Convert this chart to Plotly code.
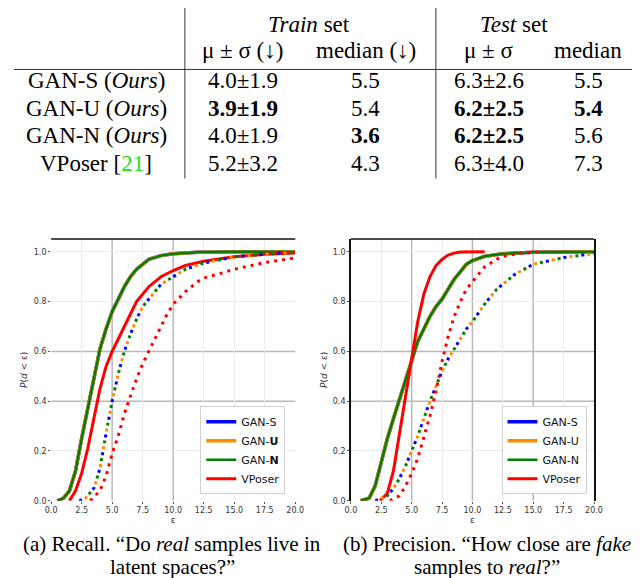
import plotly.graph_objects as go

# ---- table ----
row_labels = ["GAN-S (<i>Ours</i>)", "GAN-U (<i>Ours</i>)", "GAN-N (<i>Ours</i>)",
              "VPoser [<span style='color:#22dd22'>21</span>]"]
col_headers = ["μ ± σ (↓)", "median (↓)", "μ ± σ", "median"]
train_mean_std = ["4.0±1.9", "<b>3.9±1.9</b>", "4.0±1.9", "5.2±3.2"]
train_median = ["5.5", "5.4", "<b>3.6</b>", "4.3"]
test_mean_std = ["6.3±2.6", "<b>6.2±2.5</b>", "<b>6.2±2.5</b>", "6.3±4.0"]
test_median = ["5.5", "<b>5.4</b>", "5.6", "7.3"]

# ---- (a) recall curves ----
rec_gan_x = [0.5, 1, 1.5, 2, 2.5, 3, 3.5, 4, 4.5, 5, 5.5, 6, 6.5, 7, 7.5, 8, 9, 10, 12, 15, 20]
rec_gan_y = [0, 0.01, 0.04, 0.12, 0.25, 0.37, 0.5, 0.61, 0.69, 0.76, 0.81, 0.86, 0.9, 0.93, 0.95,
             0.97, 0.985, 0.992, 0.998, 1.0, 1.0]
rec_vp_x = [1.5, 2, 2.5, 3, 3.5, 4, 4.5, 5, 5.5, 6, 7, 8, 9, 10, 11, 12.5, 15, 17.5, 20]
rec_vp_y = [0, 0.04, 0.11, 0.21, 0.33, 0.45, 0.54, 0.6, 0.65, 0.7, 0.8, 0.86, 0.9, 0.925, 0.945,
            0.962, 0.98, 0.99, 0.995]
rec_gan_dot_x = [2.3, 2.8, 3.5, 4, 4.5, 5, 5.5, 6, 6.5, 7, 7.5, 8, 9, 10, 11, 12.5, 15, 17.5, 20]
rec_gan_dot_y = [0, 0.01, 0.05, 0.13, 0.27, 0.4, 0.51, 0.6, 0.67, 0.73, 0.78, 0.81, 0.87, 0.9,
                 0.93, 0.955, 0.98, 0.99, 0.998]
rec_vp_dot_x = [3.2, 4, 4.5, 5, 5.5, 6, 6.5, 7, 7.5, 8, 8.5, 9, 9.5, 10, 11, 12, 12.5, 14, 15, 17.5, 20]
rec_vp_dot_y = [0, 0.04, 0.1, 0.19, 0.26, 0.35, 0.42, 0.49, 0.55, 0.6, 0.65, 0.7, 0.75, 0.79, 0.84,
                0.88, 0.895, 0.915, 0.93, 0.957, 0.976]

# ---- (b) precision curves ----
pre_gan_x = [0.8, 1.5, 2, 2.5, 3, 3.5, 4, 4.5, 5, 5.5, 6, 6.5, 7, 7.5, 8, 8.5, 9, 9.5, 10, 11, 12.5, 15, 20]
pre_gan_y = [0, 0.01, 0.06, 0.16, 0.25, 0.33, 0.41, 0.49, 0.57, 0.64, 0.69, 0.74, 0.78, 0.81, 0.85,
             0.89, 0.92, 0.95, 0.965, 0.982, 0.992, 0.998, 1.0]
pre_vp_x = [2.4, 3, 3.5, 4, 4.5, 5, 5.5, 6, 6.5, 7, 7.5, 8, 8.5, 9, 11]
pre_vp_y = [0, 0.03, 0.12, 0.27, 0.43, 0.57, 0.72, 0.83, 0.9, 0.945, 0.97, 0.987, 0.995, 0.999, 1.0]
pre_gan_dot_x = [2, 3, 3.5, 4, 4.5, 5, 5.5, 6, 6.5, 7, 7.5, 8, 8.5, 9, 9.5, 10, 11, 12, 12.5, 13.5, 15, 17.5, 20]
pre_gan_dot_y = [0, 0.02, 0.05, 0.09, 0.14, 0.2, 0.26, 0.33, 0.4, 0.46, 0.52, 0.57, 0.61, 0.65, 0.69,
                 0.72, 0.79, 0.85, 0.87, 0.91, 0.95, 0.977, 0.993]
pre_vp_dot_x = [3.2, 4, 4.5, 5, 5.5, 6, 6.5, 7, 7.5, 8, 8.5, 9, 9.5, 10, 10.5, 11, 12, 12.5, 14, 15.5]
pre_vp_dot_y = [0, 0.02, 0.06, 0.11, 0.17, 0.25, 0.34, 0.44, 0.56, 0.66, 0.74, 0.8, 0.85, 0.88, 0.91,
                0.94, 0.97, 0.982, 0.995, 1.0]

names = ["GAN-S", "GAN-U", "GAN-N", "VPoser"]
legend_a = ["GAN-S", "GAN-<b>U</b>", "GAN-<b>N</b>", "VPoser"]
colors = ["#0000ff", "#ff8c00", "#008000", "#ff0000"]
gan_dashes = ["3px,15px", "0px,6px,3px,9px", "0px,12px,3px,3px"]
solid_widths = [3.5, 3.5, 2.5]

serif = "Liberation Serif, Times New Roman, serif"
fig = go.Figure()


def add_panel(xa, ya, leg, labels, gx, gy, vx, vy, gdx, gdy, vdx, vdy):
    for i in range(3):
        fig.add_trace(go.Scatter(x=gx, y=gy, mode="lines", xaxis=xa, yaxis=ya, name=labels[i],
                                 legend=leg, line=dict(color=colors[i], width=solid_widths[i])))
    fig.add_trace(go.Scatter(x=vx, y=vy, mode="lines", xaxis=xa, yaxis=ya, name=labels[3],
                             legend=leg, line=dict(color=colors[3], width=3)))
    for i in range(3):
        fig.add_trace(go.Scatter(x=gdx, y=gdy, mode="lines", xaxis=xa, yaxis=ya, showlegend=False,
                                 line=dict(color=colors[i], width=3, dash=gan_dashes[i])))
    fig.add_trace(go.Scatter(x=vdx, y=vdy, mode="lines", xaxis=xa, yaxis=ya, showlegend=False,
                             line=dict(color=colors[3], width=3, dash="3px,5px")))


add_panel("x", "y", "legend", legend_a, rec_gan_x, rec_gan_y, rec_vp_x, rec_vp_y,
          rec_gan_dot_x, rec_gan_dot_y, rec_vp_dot_x, rec_vp_dot_y)
add_panel("x2", "y2", "legend2", names, pre_gan_x, pre_gan_y, pre_vp_x, pre_vp_y,
          pre_gan_dot_x, pre_gan_dot_y, pre_vp_dot_x, pre_vp_dot_y)

tick_font = dict(family="DejaVu Sans", size=8, color="#333")
light = "#ebebeb"


def xaxis_style(light_vals):
    return dict(range=[0, 20], dtick=2.5, tickformat=".1f", showgrid=False,
                minor=dict(tickvals=light_vals, showgrid=True, gridcolor=light, ticks=""),
                zeroline=False, ticks="outside", ticklen=2, tickcolor="#555", tickfont=tick_font,
                title=dict(text="ε", font=dict(family="DejaVu Sans", size=9, color="#333"), standoff=2))


yaxis_common = dict(range=[0, 1.052], tickvals=[0, 0.2, 0.4, 0.6, 0.8, 1.0], tickformat=".1f",
                    showgrid=False, minor=dict(tickvals=[0.2, 0.8, 1.0], showgrid=True, gridcolor=light, ticks=""),
                    zeroline=False, ticks="outside", ticklen=2, tickcolor="#555", tickfont=tick_font,
                    title=dict(text="<i>P</i>(<i>d</i> < ε)", font=dict(family="DejaVu Sans", size=9, color="#333"),
                               standoff=4))

legend_style = dict(xanchor="left", yanchor="top", bgcolor="white", bordercolor="#d0d0d0", borderwidth=1,
                    font=dict(family="DejaVu Sans", size=11, color="#111"), tracegroupgap=0, itemwidth=30)

fig.update_layout(
    width=640, height=578, margin=dict(l=0, r=0, t=0, b=0),
    paper_bgcolor="white", plot_bgcolor="white",
    xaxis=dict(domain=[0.0594, 0.45], anchor="y", **xaxis_style([2.5, 7.5, 12.5, 15, 17.5])),
    yaxis=dict(domain=[0.14, 0.597], anchor="x", **yaxis_common),
    xaxis2=dict(domain=[0.539, 0.928], anchor="y2", **xaxis_style([2.5, 7.5, 12.5, 17.5])),
    yaxis2=dict(domain=[0.14, 0.597], anchor="x2", showline=True, linecolor="#111", linewidth=1.5,
                mirror=True, **yaxis_common),
    legend=dict(x=0.298, y=0.305, **legend_style),
    legend2=dict(x=0.78, y=0.305, **legend_style),
)

# darker major gridlines and frame pieces
shapes = []
for xa, ya, xs in [("x", "y", [5, 10]), ("x2", "y2", [5, 10, 15])]:
    for xv in xs:
        shapes.append(dict(type="line", xref=xa, yref=ya + " domain", x0=xv, x1=xv, y0=0, y1=1,
                           line=dict(color="#b8b8b8", width=1.5), layer="below"))
    for yv in [0.4, 0.6]:
        shapes.append(dict(type="line", xref=xa + " domain", yref=ya, x0=0, x1=1, y0=yv, y1=yv,
                           line=dict(color="#b8b8b8", width=1.5), layer="below"))
    shapes.append(dict(type="line", xref=xa + " domain", yref=ya + " domain", x0=0, x1=1, y0=1, y1=1,
                       line=dict(color="#111", width=1.5)))

# table rules
shapes.append(dict(type="line", xref="paper", yref="paper", x0=0, x1=1, y0=1 - 62 / 578, y1=1 - 62 / 578,
                   line=dict(color="#333", width=1)))
for xp in [175, 432]:
    shapes.append(dict(type="line", xref="paper", yref="paper", x0=xp / 640, x1=xp / 640,
                       y0=1 - 172 / 578, y1=1, line=dict(color="#333", width=1)))
fig.update_layout(shapes=shapes)

ann = []


def txt(text, xpx, ypx, size=23):
    ann.append(dict(text=text, x=xpx / 640, y=1 - ypx / 578, xref="paper", yref="paper",
                    showarrow=False, xanchor="center", yanchor="middle",
                    font=dict(family=serif, size=size, color="black")))


txt("<i>Train</i> set", 302, 17)
txt("<i>Test</i> set", 512, 17)
col_x = [234, 360, 486, 588]
for cx, h in zip(col_x, col_headers):
    txt(h, cx, 43)
row_y = [73, 101, 129, 157]
columns = [train_mean_std, train_median, test_mean_std, test_median]
for r, ry in enumerate(row_y):
    txt(row_labels[r], 84, ry)
    for cx, col in zip(col_x, columns):
        txt(col[r], cx, ry)

txt("(a) Recall. “Do <i>real</i> samples live in", 162, 541, 21)
txt("latent spaces?”", 162, 564, 21)
txt("(b) Precision. “How close are <i>fake</i>", 484, 541, 21)
txt("samples to <i>real</i>?”", 484, 564, 21)
fig.update_layout(annotations=ann)

fig.write_html("out.html")
